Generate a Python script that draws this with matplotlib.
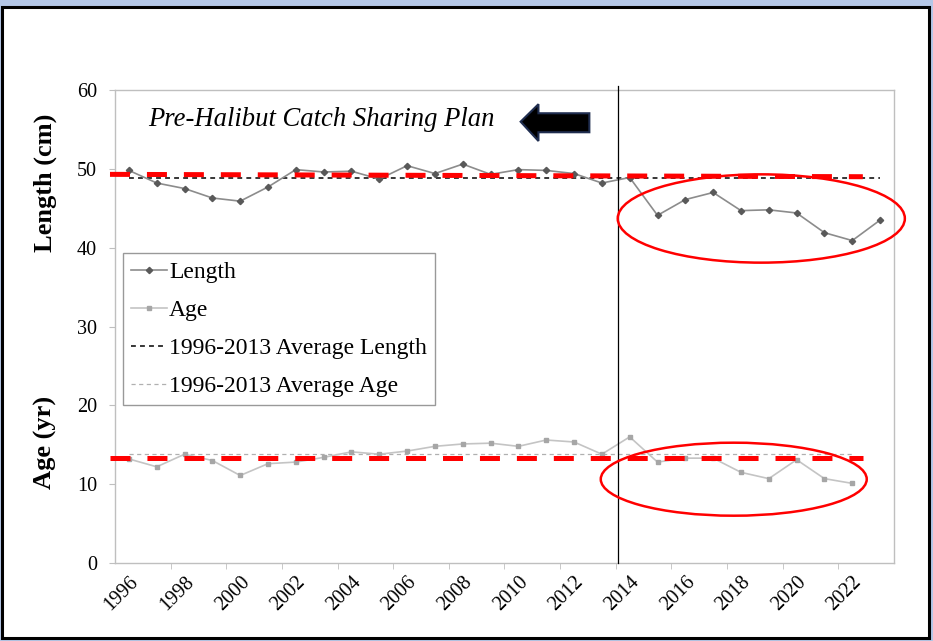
import numpy as np
import matplotlib
matplotlib.use("Agg")
import matplotlib.pyplot as plt
from matplotlib.patches import Ellipse, Polygon, Rectangle

# datos
years = list(range(1996, 2024))
length = [49.8, 48.2, 47.5, 46.3, 45.9, 47.7, 49.9, 49.6, 49.7, 48.7,
          50.4, 49.4, 50.6, 49.3, 49.9, 49.8, 49.4, 48.2, 48.9, 44.1,
          46.1, 47.0, 44.7, 44.8, 44.4, 41.9, 40.9, 43.5]
age = [13.2, 12.2, 13.8, 13.0, 11.1, 12.6, 12.8, 13.4, 14.1, 13.8,
       14.2, 14.8, 15.1, 15.2, 14.8, 15.6, 15.35, 13.8, 16.0, 12.8,
       13.3, 13.3, 11.5, 10.7, 13.1, 10.7, 10.1]
avg_length = 48.9
avg_age = 13.8
red_length = (49.3, 49.0)
red_age = (13.36, 13.36)
tick_labels = [str(y) for y in years[::2]]

plt.rcParams['font.family'] = ['Liberation Serif', 'DejaVu Serif']
plt.rcParams['lines.scale_dashes'] = False

W, H = 933, 641
fig = plt.figure(figsize=(W / 100, H / 100), dpi=100, facecolor='#b4c7e7')
# marco blanco con borde negro
fig.patches.append(Rectangle((2 / W, 1 - 638 / H), 927 / W, 631 / H,
                             transform=fig.transFigure, facecolor='white',
                             edgecolor='black', lw=2.2, zorder=-10))

ax = fig.add_axes([115 / W, 1 - 563 / H, 779 / W, 473 / H])
ax.set_facecolor('white')

x = np.arange(len(years))
ax.plot(x, length, color='#8c8c8c', lw=1.2, marker='D', ms=3.2,
        mfc='#595959', mec='#595959', label='Length', zorder=3)
ax.plot(x[:len(age)], age, color='#c4c4c4', lw=1.2, marker='s', ms=2.2,
        mfc='#a6a6a6', mec='#a6a6a6', label='Age', zorder=3)
ax.plot([x[0], x[-1]], [avg_length, avg_length], color='black', lw=1.1,
        dashes=(3.5, 3), label='1996-2013 Average Length', zorder=2)
ax.plot([x[0], x[len(age) - 1]], [avg_age, avg_age], color='#b0b0b0', lw=0.9,
        dashes=(3, 2.5), label='1996-2013 Average Age', zorder=2)

# lineas rojas gruesas
rx = [-0.68, 26.38]
ax.plot(rx, red_length, color='red', lw=3.6, dashes=(14.4, 12.2),
        dash_capstyle='butt', clip_on=False, zorder=5)
ax.plot(rx, red_age, color='red', lw=3.6, dashes=(14.4, 12.2),
        dash_capstyle='butt', clip_on=False, zorder=5)

# linea vertical 2014
ax.plot([17.58, 17.58], [0, 60.5], color='black', lw=0.9, clip_on=False, zorder=4)

# elipses
ax.add_patch(Ellipse((22.73, 43.7), 10.32, 11.2, fill=False, edgecolor='red',
                     lw=1.8, clip_on=False, zorder=6))
ax.add_patch(Ellipse((21.74, 10.63), 9.56, 9.26, fill=False, edgecolor='red',
                     lw=1.8, clip_on=False, zorder=6))

# flecha y texto
arrow = [(14.08, 55.98), (14.72, 58.2), (14.72, 57.05), (16.55, 57.05),
         (16.55, 54.64), (14.72, 54.64), (14.72, 53.53)]
ax.add_patch(Polygon(arrow, closed=True, facecolor='black', edgecolor='#1f2d4f',
                     lw=1.5, zorder=6))
ax.text(0.69, 56.3, 'Pre-Halibut Catch Sharing Plan', fontsize=19.2,
        style='italic', ha='left', va='center')

ax.set_xlim(-0.5, len(years) - 0.5)
ax.set_ylim(0, 60)
ax.set_yticks(range(0, 61, 10))
ax.set_xticks(x[::2])
ax.set_xticklabels(tick_labels, rotation=45, ha='right', va='top',
                   rotation_mode='anchor', fontsize=14.5)
ax.set_xticks(np.arange(1.5, len(years) - 1, 2), minor=True)
ax.tick_params(axis='x', which='major', length=0, pad=7)
ax.tick_params(axis='x', which='minor', length=4, color='#bfbfbf', direction='out')
ax.tick_params(axis='y', length=4, color='#bfbfbf', labelsize=14.5, pad=9)
for s in ax.spines.values():
    s.set_color('#bfbfbf')
    s.set_linewidth(1)

leg = ax.legend(loc='upper left', bbox_to_anchor=(0.0103, 0.6554),
                borderaxespad=0, fontsize=17, fancybox=False, frameon=True,
                edgecolor='#808080', handlelength=1.5, handletextpad=0.1,
                labelspacing=0.7, borderpad=0.35)
leg.get_frame().set_linewidth(1)

fig.text(45 / W, 1 - 183 / H, 'Length (cm)', rotation=90, fontsize=19,
         fontweight='bold', ha='center', va='center')
fig.text(45 / W, 1 - 442 / H, 'Age (yr)', rotation=90, fontsize=19,
         fontweight='bold', ha='center', va='center')

fig.savefig('out.png', dpi=100, facecolor=fig.get_facecolor())
